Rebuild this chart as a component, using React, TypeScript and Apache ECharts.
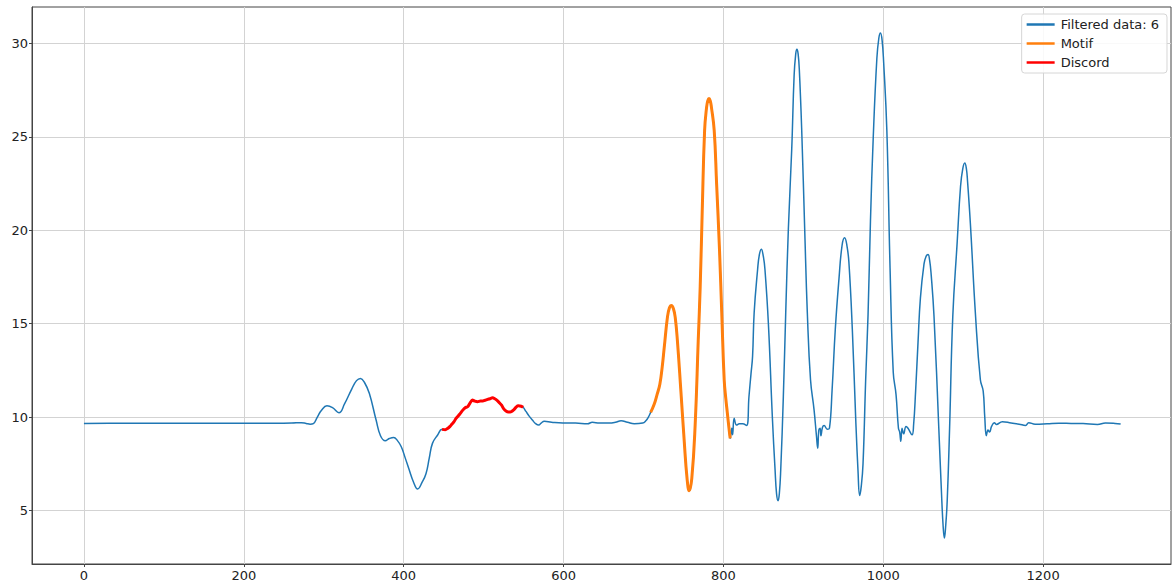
import React, { useEffect, useRef } from "react";
import * as echarts from "echarts";

// Filtered signal as [sample index, value]
const leadIn: [number, number][] = [
  [0, 9.66], [40, 9.67], [100, 9.67], [160, 9.67], [200, 9.67], [240, 9.67], [260, 9.68],
  [272, 9.7], [278, 9.66], [283, 9.62], [287, 9.65], [292, 10.0], [297, 10.35], [304, 10.6],
  [311, 10.5], [319, 10.23], [326, 10.7], [335, 11.5], [341, 11.95], [346, 12.07], [351, 11.85],
  [357, 11.27], [365.5, 9.84], [371, 9.0], [377, 8.73], [382, 8.85], [387.5, 8.91], [392, 8.75],
  [397, 8.41], [402, 7.8], [407, 7.16], [412, 6.55], [417.5, 6.15], [423, 6.5], [428, 6.98],
  [432, 7.8], [436, 8.59], [442.5, 9.04], [448, 9.34],
];

const discord: [number, number][] = [
  [448, 9.34], [452, 9.32], [455, 9.39], [458, 9.5], [460.5, 9.63], [463, 9.75], [465.5, 9.93],
  [470, 10.15], [474, 10.37], [477, 10.5], [480, 10.55], [483, 10.75], [486, 10.91], [489, 10.85],
  [492.5, 10.82], [496, 10.86], [499, 10.86], [502, 10.9], [505, 10.95], [508, 10.98], [511, 11.03],
  [514, 10.98], [517.5, 10.87], [520, 10.75], [522.5, 10.64], [525, 10.45], [528, 10.32],
  [531, 10.27], [534, 10.28], [538, 10.4], [541, 10.55], [543.5, 10.6], [547, 10.58], [549.5, 10.52],
];

const between: [number, number][] = [
  [549.5, 10.52], [553, 10.3], [557, 10.05], [561, 9.84], [565, 9.65], [569, 9.57], [572, 9.68],
  [576, 9.77], [585, 9.72], [599, 9.68], [615, 9.68], [630, 9.64], [636, 9.72], [645, 9.68],
  [657, 9.68], [665, 9.72], [672, 9.8], [680, 9.72], [688.5, 9.64], [699, 9.68], [703, 9.8],
  [706, 9.98], [709, 10.25],
];

const motif: [number, number][] = [
  [709, 10.25], [713.4, 10.68], [717, 11.2], [720.5, 11.76], [723.5, 12.7], [726, 13.73],
  [730, 15.35], [732.5, 15.85], [735, 15.98], [737.5, 15.8], [739.7, 15.35], [742.5, 14.07],
  [746.8, 11.4], [751, 8.71], [754.5, 6.73], [757.2, 6.05], [760.5, 6.73], [764.7, 9.6],
  [768.5, 14.07], [771, 17.0], [773.5, 21.0], [776.5, 25.35], [779, 26.6], [780.5, 26.95],
  [782, 27.06], [783.5, 26.95], [785, 26.6], [788.5, 25.35], [791.5, 22.5], [795, 19.1],
  [798, 15.5], [801, 12], [803, 11], [805, 10.2], [807, 9.4], [808.5, 8.86],
];

const tail: [number, number][] = [
  [808.5, 8.86], [810.5, 9.4], [811.5, 9.05], [813.5, 9.93], [816.5, 9.57], [820, 9.64],
  [824, 9.64], [829, 9.55], [832, 11.1], [834.5, 12.3], [836.5, 13.25], [838.5, 15.6],
  [842.8, 17.9], [845, 18.7], [847.5, 18.99], [850, 18.6], [852, 17.9], [856.3, 15.0],
  [861.3, 9.95], [864.7, 7.14], [866.5, 5.9], [868.4, 5.52], [870, 5.9], [871.7, 7.14],
  [875, 11.1], [878, 15.6], [881.3, 20.1], [885.5, 24.35], [888.5, 28.3], [890.5, 29.45],
  [892, 29.7], [893.5, 29.45], [895, 28.6], [898, 25.35], [901.7, 20.1], [905, 15.6],
  [909, 12.0], [913.4, 10.4], [916.5, 8.96], [918, 8.33], [919.4, 9.3], [921, 9.4], [922, 9.0],
  [924, 9.45], [926, 9.55], [930, 9.35], [932.7, 9.4], [936, 11.45], [940, 14.7], [944.6, 17.4],
  [948.5, 19.2], [951.7, 19.6], [954.5, 19.2], [957, 18.3], [961.3, 14.7], [965.5, 9.95],
  [968.4, 7.14], [970.5, 5.8], [972.5, 6.3], [974.7, 7.5], [978, 12.0], [981, 15.5],
  [984, 20.5], [987.5, 25.0], [992, 29.2], [994.5, 30.3], [996.5, 30.57], [998.5, 30.2],
  [1000.5, 29.0], [1004.5, 25.35], [1008.5, 18.0], [1012.5, 12.4], [1016, 11.2], [1019, 9.4],
  [1020.5, 9.2], [1022, 8.7], [1023.5, 9.4], [1025.5, 9.1], [1028.5, 9.5], [1031, 9.4],
  [1036, 9.05], [1038, 9.6], [1040.5, 11.4], [1043.5, 14.0], [1046.5, 16.38], [1051, 18.2],
  [1053.5, 18.6], [1056, 18.71], [1058, 18.4], [1060, 17.6], [1063.5, 15.4], [1069.5, 9.4],
  [1073, 5.8], [1075, 4.1], [1076.5, 3.52], [1078, 4.1], [1080, 5.5], [1083, 9.4], [1087, 15.4],
  [1092.5, 19.37], [1096.7, 22.36], [1099.5, 23.3], [1102, 23.6], [1104, 23.3], [1105.5, 22.6],
  [1109, 20.36], [1115.5, 15.4], [1121.5, 12.0], [1125, 11.4], [1127, 10.0], [1129, 9.0],
  [1131, 9.3], [1133, 9.2], [1135.5, 9.5], [1139, 9.7], [1141.5, 9.6], [1149, 9.75],
  [1160, 9.68], [1170, 9.62], [1178, 9.55], [1182, 9.7], [1190, 9.62], [1205, 9.64],
  [1219.5, 9.67], [1235, 9.66], [1250, 9.65], [1268, 9.6], [1278, 9.68], [1290, 9.66],
  [1297, 9.63],
];

const xTicks = [0, 200, 400, 600, 800, 1000, 1200];
const yTicks = [5, 10, 15, 20, 25, 30];
const seriesNames = ["Filtered data: 6", "Motif", "Discord"];

const FONT = "DejaVu Sans";

export default function App() {
  const ref = useRef<HTMLDivElement>(null);
  useEffect(() => {
    if (!ref.current) return;
    const chart = echarts.init(ref.current, undefined, { renderer: "svg" });
    const filtered = [
      ...leadIn,
      ...discord.slice(1),
      ...between.slice(1),
      ...motif.slice(1),
      ...tail.slice(1),
    ];
    const gridLine = { show: true, lineStyle: { color: "#d3d3d3", width: 1 } };
    const lineCommon = { type: "line", showSymbol: false, symbol: "none", smooth: 0.45 };
    chart.setOption({
      animation: false,
      backgroundColor: "#ffffff",
      grid: {
        left: 32,
        right: 2,
        top: 7,
        bottom: 19,
        show: true,
        borderColor: "#444",
        borderWidth: 1,
        backgroundColor: "transparent",
      },
      xAxis: {
        type: "value",
        min: -65,
        max: 1360,
        axisLine: { show: true, onZero: false, lineStyle: { color: "#444" } },
        axisTick: { show: true, length: 3, customValues: xTicks, lineStyle: { color: "#444" } },
        axisLabel: {
          customValues: xTicks,
          formatter: (v: number) => String(v),
          fontFamily: FONT,
          fontSize: 13,
          color: "#222",
          margin: 5,
        },
        splitLine: gridLine,
      },
      yAxis: {
        type: "value",
        min: 2.13,
        max: 31.96,
        axisLine: { show: true, onZero: false, lineStyle: { color: "#444" } },
        axisTick: { show: true, length: 3, customValues: yTicks, lineStyle: { color: "#444" } },
        axisLabel: {
          customValues: yTicks,
          formatter: (v: number) => String(v),
          fontFamily: FONT,
          fontSize: 13,
          color: "#222",
          margin: 4,
        },
        splitLine: gridLine,
      },
      legend: {
        orient: "vertical",
        right: 6,
        top: 14,
        data: seriesNames,
        icon: "rect",
        itemWidth: 28,
        itemHeight: 2.5,
        itemGap: 6,
        padding: [4, 8, 4, 5],
        backgroundColor: "rgba(255,255,255,0.85)",
        borderColor: "#d6d6d6",
        borderWidth: 1,
        borderRadius: 3,
        textStyle: { fontFamily: FONT, fontSize: 13, color: "#222", padding: [0, 0, 0, 1] },
      },
      series: [
        {
          ...lineCommon,
          name: seriesNames[0],
          data: filtered,
          lineStyle: { color: "#1f77b4", width: 1.5 },
          itemStyle: { color: "#1f77b4" },
          z: 2,
        },
        {
          ...lineCommon,
          name: seriesNames[1],
          data: motif,
          lineStyle: { color: "#ff7f0e", width: 3 },
          itemStyle: { color: "#ff7f0e" },
          z: 3,
        },
        {
          ...lineCommon,
          name: seriesNames[2],
          data: discord,
          smooth: 0.25,
          lineStyle: { color: "#ff0000", width: 3 },
          itemStyle: { color: "#ff0000" },
          z: 4,
        },
      ],
    });
    return () => chart.dispose();
  }, []);
  return (
    <div
      ref={ref}
      style={{ position: "fixed", left: 0, top: 0, width: 1173, height: 583, background: "#fff" }}
    />
  );
}
